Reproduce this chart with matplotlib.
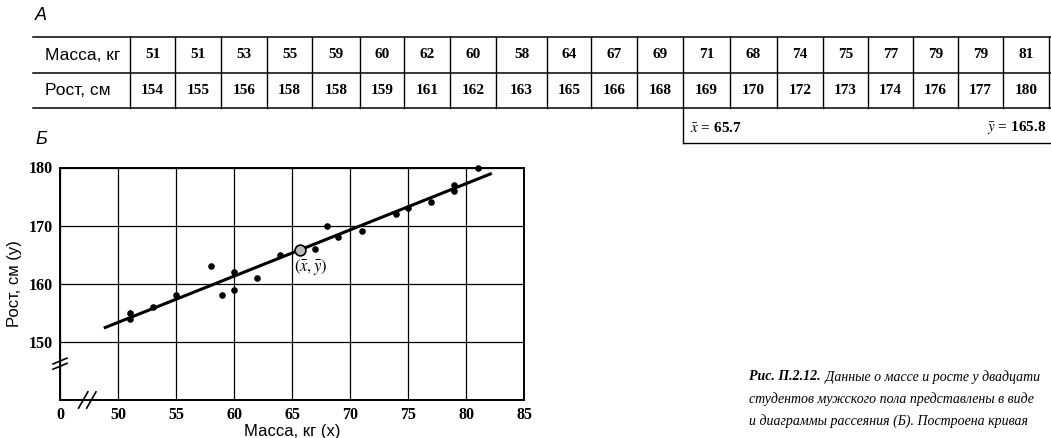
import numpy as np
import matplotlib.pyplot as plt

# данные таблицы (А)
mass = [51, 51, 53, 55, 59, 60, 62, 60, 58, 64, 67, 69, 71, 68, 74, 75, 77, 79, 79, 81]
height = [154, 155, 156, 158, 158, 159, 161, 162, 163, 165, 166, 168, 169, 170, 172, 173, 174, 176, 177, 180]
row_labels = ["Масса, кг", "Рост, см"]
x_ticks = [45, 50, 55, 60, 65, 70, 75, 80, 85]
x_ticklabels = ["0", "50", "55", "60", "65", "70", "75", "80", "85"]
y_ticks = [150, 160, 170, 180]
caption_bold = "Рис. П.2.12."
caption_lines = [" Данные о массе и росте у двадцати",
                 "студентов мужского пола представлены в виде",
                 "и диаграммы рассеяния (Б). Построена кривая"]

plt.rcParams["mathtext.fontset"] = "stix"
serif = "Liberation Serif"
sans = "Liberation Sans"

W, H = 1051, 438
fig = plt.figure(figsize=(W / 100, H / 100), dpi=100)

# фоновая ось в пикселях для таблицы и подписей
bg = fig.add_axes([0, 0, 1, 1])
bg.set_xlim(0, W)
bg.set_ylim(H, 0)
bg.axis("off")

# --- таблица А ---
col_edges = [130, 175, 221, 267, 312, 360, 404, 450, 496, 547, 591, 637,
             683, 730, 777, 823, 868, 913, 958, 1003, 1049]
y_top, y_mid, y_bot = 37, 73, 108
for yy in (y_top, y_mid, y_bot):
    bg.plot([33, W], [yy, yy], color="black", lw=1.1)
for xx in col_edges:
    bg.plot([xx, xx], [y_top, y_bot], color="black", lw=1.0)

bg.text(35, 15, "А", fontsize=13, family=sans, style="italic", va="center")
bg.text(45, (y_top + y_mid) / 2, row_labels[0], fontsize=12.5, family=sans, va="center")
bg.text(45, (y_mid + y_bot) / 2, row_labels[1], fontsize=12.5, family=sans, va="center")
for i in range(len(mass)):
    cx = (col_edges[i] + col_edges[i + 1]) / 2
    bg.text(cx, (y_top + y_mid) / 2, str(mass[i]), fontsize=11, family=serif,
            weight="bold", ha="center", va="center")
    bg.text(cx, (y_mid + y_bot) / 2, str(height[i]), fontsize=11, family=serif,
            weight="bold", ha="center", va="center")

x_mean = np.mean(mass)
y_mean = np.mean(height)

# блок со средними
bg.plot([683, 683], [y_bot, 143], color="black", lw=1.0)
bg.plot([683, W], [143, 143], color="black", lw=1.0)
bg.text(690, 128, r"$\bar{x}$ = %.1f" % x_mean, fontsize=11, family=serif,
        weight="bold", va="center")
bg.text(1046, 128, r"$\bar{y}$ = %.1f" % y_mean, fontsize=11, family=serif,
        weight="bold", va="center", ha="right")

bg.text(35, 140, "Б", fontsize=13, family=sans, style="italic", va="center")

# подпись к рисунку
cap_fs = 10
t0 = bg.text(749, 377, caption_bold, fontsize=cap_fs, family=serif, style="italic",
             weight="bold", va="center")
fig.canvas.draw()
ext = t0.get_window_extent()
bg.text(ext.x1 + 1, 377, caption_lines[0], fontsize=cap_fs, family=serif,
        style="italic", va="center")
bg.text(749, 399, caption_lines[1], fontsize=cap_fs, family=serif, style="italic", va="center")
bg.text(749, 421, caption_lines[2], fontsize=cap_fs, family=serif, style="italic", va="center")

# --- диаграмма рассеяния Б ---
ax = fig.add_axes([60 / W, 1 - 400 / H, (524 - 60) / W, (400 - 167.5) / H])
ax.set_xlim(45, 85)
ax.set_ylim(140, 180)
ax.set_xticks(x_ticks)
ax.set_xticklabels(x_ticklabels)
ax.set_yticks(y_ticks)
ax.grid(True, color="black", lw=0.9)
ax.set_axisbelow(True)
for s in ax.spines.values():
    s.set_linewidth(1.4)
ax.tick_params(length=0, pad=5)
for lab in ax.get_xticklabels() + ax.get_yticklabels():
    lab.set_family(serif)
    lab.set_weight("bold")
    lab.set_fontsize(11.5)

ax.scatter(mass, height, s=14, color="black", zorder=3, clip_on=False)

# линия регрессии
b, a = np.polyfit(mass, height, 1)
xl = np.array([48.9, 82.1])
ax.plot(xl, a + b * xl, color="black", lw=2.2, zorder=3)

# точка средних
ax.scatter([x_mean], [y_mean], s=60, facecolor="#bbbbbb", edgecolor="black",
           lw=1.2, zorder=4)
ax.text(x_mean - 0.5, y_mean - 1.2, r"$(\bar{x},\bar{y})$", fontsize=12,
        ha="left", va="top", zorder=5)

ax.set_xlabel("Масса, кг (x)", family=sans, fontsize=12, labelpad=1)
ax.set_ylabel("Рост, см (y)", family=sans, fontsize=12, labelpad=5)

# разрывы осей
for dx in (0, 0.7):
    ax.plot([46.6 + dx, 47.4 + dx], [138.6, 141.4], color="black", lw=1.2,
            clip_on=False, zorder=5)
for dy in (0, 0.9):
    ax.plot([44.4, 45.6], [145.3 + dy, 146.3 + dy], color="black", lw=1.2,
            clip_on=False, zorder=5)

fig.savefig("out.png", dpi=100)
